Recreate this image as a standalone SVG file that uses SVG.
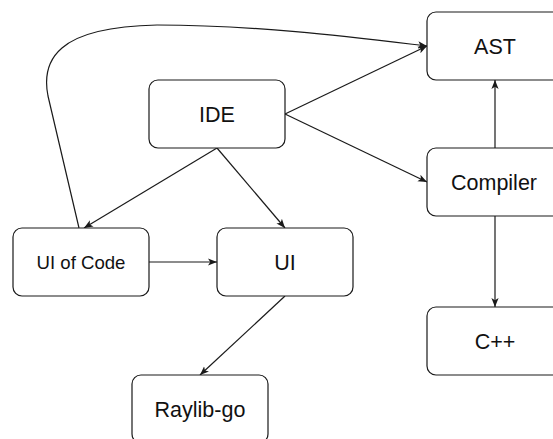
<svg xmlns="http://www.w3.org/2000/svg" width="553" height="439" viewBox="0 0 553 439">
<defs>
<style>
.box{fill:#fff;stroke:#1a1a1a;stroke-width:1.2}
.t{font-family:"Liberation Sans",Arial,Helvetica,sans-serif;font-size:21.5px;fill:#111;text-anchor:middle}
.ts{font-size:18.6px}
.e{fill:none;stroke:#1a1a1a;stroke-width:1.2}
</style>
<marker id="arr" viewBox="0 0 10 10" refX="10" refY="5" markerWidth="9" markerHeight="9" markerUnits="userSpaceOnUse" orient="auto">
<path d="M0,1 L10,5 L0,9 L2.5,5 z" fill="#1a1a1a"/>
</marker>
</defs>
<rect width="553" height="439" fill="#fff"/>
<g id="connectors">
<path class="e" d="M79,228 L48,96 C44,76 48,60 62,48 C78,34 110,26 157,25 C260,25 360,38 427,46" marker-end="url(#arr)"/>
<line class="e" x1="285" y1="114" x2="427" y2="46" marker-end="url(#arr)"/>
<line class="e" x1="285" y1="114" x2="427" y2="182" marker-end="url(#arr)"/>
<line class="e" x1="217" y1="148" x2="84" y2="228" marker-end="url(#arr)"/>
<line class="e" x1="217" y1="148" x2="285" y2="228" marker-end="url(#arr)"/>
<line class="e" x1="149" y1="262" x2="217" y2="262" marker-end="url(#arr)"/>
<line class="e" x1="285" y1="296" x2="200" y2="375" marker-end="url(#arr)"/>
<line class="e" x1="495" y1="148" x2="495" y2="80" marker-end="url(#arr)"/>
<line class="e" x1="495" y1="216" x2="495" y2="307" marker-end="url(#arr)"/>
</g>
<g id="ast"><rect class="box" x="427" y="12" width="136" height="68" rx="9"/><text class="t" x="495" y="53.7">AST</text></g>
<g id="ide"><rect class="box" x="149" y="80" width="136" height="68" rx="9"/><text class="t" x="217" y="121.7">IDE</text></g>
<g id="compiler"><rect class="box" x="427" y="148" width="136" height="68" rx="9"/><text class="t" x="494" y="189.7">Compiler</text></g>
<g id="ui-of-code"><rect class="box" x="13" y="228" width="136" height="68" rx="9"/><text class="t ts" x="81" y="268.7">UI of Code</text></g>
<g id="ui"><rect class="box" x="217" y="228" width="136" height="68" rx="9"/><text class="t" x="285" y="269.7">UI</text></g>
<g id="cpp"><rect class="box" x="427" y="307" width="136" height="68" rx="9"/><text class="t" x="495" y="348.7">C++</text></g>
<g id="raylib-go"><rect class="box" x="132" y="375" width="136" height="68" rx="9"/><text class="t" x="200" y="416.7">Raylib-go</text></g>
</svg>
